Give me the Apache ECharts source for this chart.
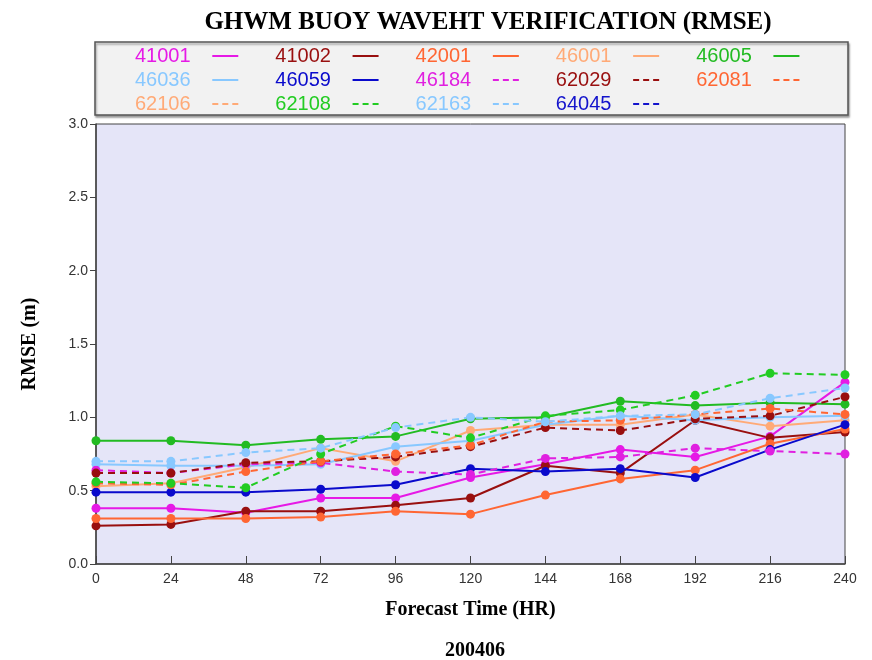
<!DOCTYPE html>
<html><head><meta charset="utf-8">
<script src="https://cdn.jsdelivr.net/npm/echarts@6/dist/echarts.min.js"></script>
<style>html,body{margin:0;padding:0;background:#fff}#c{width:872px;height:660px}</style>
</head><body><div id="c"></div>
<script>
const hours = [0, 24, 48, 72, 96, 120, 144, 168, 192, 216, 240];
const yTicks = [0.0, 0.5, 1.0, 1.5, 2.0, 2.5, 3.0];
const names = ['41001','41002','42001','46001','46005','46036','46059','46184','62029','62081','62106','62108','62163','64045'];
const s41001 = [0.38, 0.38, 0.35, 0.45, 0.45, 0.59, 0.68, 0.78, 0.73, 0.87, 1.24];
const s41002 = [0.26, 0.27, 0.36, 0.36, 0.40, 0.45, 0.67, 0.62, 0.98, 0.86, 0.90];
const s42001 = [0.31, 0.31, 0.31, 0.32, 0.36, 0.34, 0.47, 0.58, 0.64, 0.82, 0.92];
const s46001 = [0.53, 0.55, 0.66, 0.79, 0.70, 0.91, 0.95, 0.95, 1.02, 0.94, 0.98];
const s46005 = [0.84, 0.84, 0.81, 0.85, 0.87, 0.99, 1.00, 1.11, 1.08, 1.10, 1.09];
const s46036 = [0.68, 0.67, 0.67, 0.68, 0.80, 0.84, 0.95, 1.01, 0.98, 1.00, 1.01];
const s46059 = [0.49, 0.49, 0.49, 0.51, 0.54, 0.65, 0.63, 0.65, 0.59, 0.78, 0.95];
const s46184 = [0.64, 0.62, 0.68, 0.69, 0.63, 0.61, 0.72, 0.73, 0.79, 0.77, 0.75];
const s62029 = [0.62, 0.62, 0.69, 0.70, 0.73, 0.80, 0.93, 0.91, 0.99, 1.01, 1.14];
const s62081 = [0.55, 0.54, 0.63, 0.70, 0.75, 0.81, 0.97, 0.98, 1.02, 1.06, 1.02];
const s62106 = [];
const s62108 = [0.56, 0.55, 0.52, 0.75, 0.94, 0.86, 1.01, 1.05, 1.15, 1.30, 1.29];
const s62163 = [0.70, 0.70, 0.76, 0.79, 0.93, 1.00, 0.97, 1.01, 1.02, 1.13, 1.20];
const s64045 = [];
const values = [s41001,s41002,s42001,s46001,s46005,s46036,s46059,s46184,s62029,s62081,s62106,s62108,s62163,s64045];
const colors = ['#e619e6','#990f0f','#ff6633','#ffaa77','#22bb22','#88c8ff','#0a0acc','#e020e0','#990f0f','#ff6633','#ffaa77','#22cc22','#88c8ff','#1414cc'];
const dashed = [false,false,false,false,false,false,false,true,true,true,true,true,true,true];

const chart = echarts.init(document.getElementById('c'));
const solidIcon = 'rect';
const dashIcon = 'path://M0 0H6V2H0Z M10 0H16V2H10Z M20 0H26V2H20Z';
const series = names.map((n, i) => ({
  name: n, type: 'line', color: colors[i],
  data: values[i].map((v, j) => [hours[j], v]),
  symbol: 'circle', symbolSize: 9, showSymbol: true,
  lineStyle: { width: 2, type: dashed[i] ? [7, 5] : 'solid', color: colors[i] },
  itemStyle: { color: colors[i] },
  emphasis: { disabled: true }, animation: false, z: 2
}));
function legendRow(idx, top) {
  return {
    left: 135, top: top, padding: 0, orient: 'horizontal', align: 'right',
    itemWidth: 26, itemHeight: 2, itemGap: 37, selectedMode: false,
    formatter: n => n + '   ',
    data: idx.map(i => ({ name: names[i], icon: dashed[i] ? dashIcon : solidIcon,
      textStyle: { color: colors[i] } })),
    textStyle: { fontFamily: 'Liberation Sans, Arial, sans-serif', fontSize: 20 }
  };
}
chart.setOption({
  animation: false,
  title: [
    { text: 'GHWM BUOY WAVEHT VERIFICATION (RMSE)', left: 483, top: 5, textAlign: 'center',
      textStyle: { fontFamily: 'Liberation Serif, Times New Roman, serif', fontWeight: 'bold', fontSize: 25, color: '#000' } },
    { text: '200406', left: 470, top: 636, textAlign: 'center',
      textStyle: { fontFamily: 'Liberation Serif, Times New Roman, serif', fontWeight: 'bold', fontSize: 20, color: '#000' } }
  ],
  graphic: [
    { type: 'rect', shape: { x: 95, y: 42, width: 753, height: 73 }, z: -1,
      style: { fill: '#f2f2f2', stroke: '#555', lineWidth: 1.5, shadowColor: 'rgba(0,0,0,0.35)', shadowOffsetX: 1, shadowOffsetY: 2, shadowBlur: 2 } }
  ],
  legend: [ legendRow([0,1,2,3,4], 46), legendRow([5,6,7,8,9], 70), legendRow([10,11,12,13], 94) ],
  grid: { left: 96, right: 27, top: 124, bottom: 96, show: true, backgroundColor: '#e5e5f8', borderColor: '#444', borderWidth: 1 },
  xAxis: {
    type: 'value', min: 0, max: 240, interval: 24,
    name: 'Forecast Time (HR)', nameLocation: 'middle', nameGap: 36,
    nameTextStyle: { fontFamily: 'Liberation Serif, Times New Roman, serif', fontWeight: 'bold', fontSize: 20, color: '#000' },
    axisLine: { lineStyle: { color: '#444', width: 1.5 } },
    axisTick: { inside: true, length: 8, lineStyle: { color: '#444' } },
    axisLabel: { color: '#333', fontSize: 14, fontFamily: 'Liberation Sans, Arial, sans-serif', margin: 8 },
    splitLine: { show: false }
  },
  yAxis: {
    type: 'value', min: 0, max: 3, interval: 0.5,
    name: 'RMSE (m)', nameLocation: 'middle', nameGap: 56,
    nameTextStyle: { fontFamily: 'Liberation Serif, Times New Roman, serif', fontWeight: 'bold', fontSize: 20, color: '#000' },
    axisLine: { show: true, lineStyle: { color: '#444', width: 1.5 } },
    axisTick: { show: true, inside: false, length: 6, lineStyle: { color: '#444' } },
    axisLabel: { color: '#333', fontSize: 14, fontFamily: 'Liberation Sans, Arial, sans-serif', margin: 8,
      formatter: v => yTicks.indexOf(v) >= 0 ? v.toFixed(1) : '' },
    splitLine: { show: false }
  },
  series: series
});
</script></body></html>
